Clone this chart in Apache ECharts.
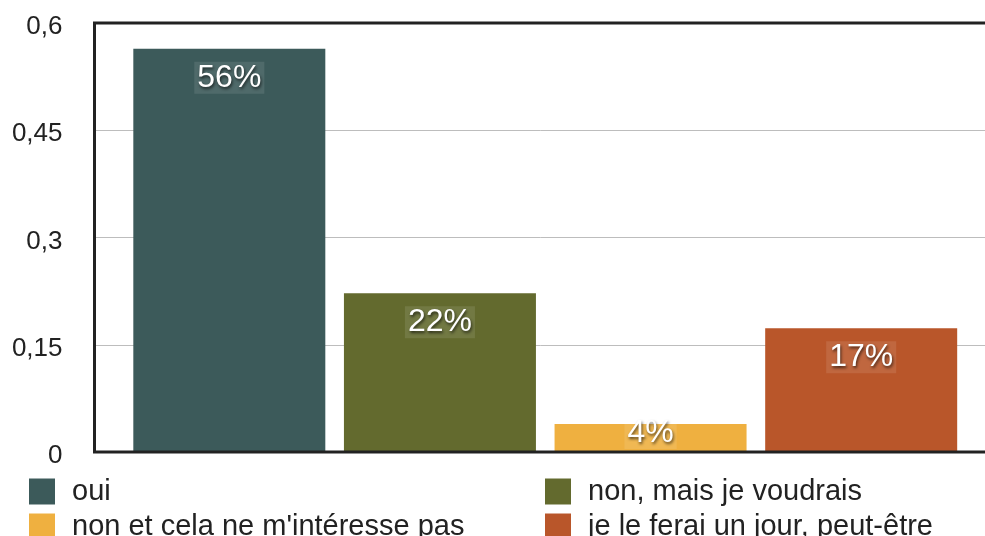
<!DOCTYPE html>
<html>
<head>
<meta charset="utf-8">
<script src="https://cdn.jsdelivr.net/npm/echarts@6/dist/echarts.min.js"></script>
<style>
  html, body { margin: 0; padding: 0; background: #fff; }
  #chart { width: 985px; height: 536px; }
</style>
</head>
<body>
<div id="chart"></div>
<script>
// Survey answers: one bar per answer, share of respondents
var answers = ['oui', 'non, mais je voudrais', 'non et cela ne m\'intéresse pas', 'je le ferai un jour, peut-être'];
var shares = [0.564, 0.222, 0.039, 0.173];
var colors = ['#3c5a5a', '#636a2e', '#efb040', '#b9562a'];
var yTickLabels = ['0', '0,15', '0,3', '0,45', '0,6'];

var FONT = '"Liberation Sans", Arial, Helvetica, sans-serif';

var series = answers.map(function (name, i) {
  var small = shares[i] < 0.08;
  return {
    name: name,
    type: 'bar',
    data: [shares[i]],
    barWidth: 192,
    barGap: '9.7%',
    itemStyle: { color: colors[i] },
    label: {
      show: true,
      position: small ? 'insideBottom' : 'insideTop',
      distance: small ? 3 : 13,
      formatter: function (p) { return Math.round(p.value * 100) + '%'; },
      color: '#fff',
      fontFamily: FONT,
      fontSize: 32,
      lineHeight: 30,
      padding: [1, 3, 1, 3],
      backgroundColor: 'rgba(255,255,255,0.1)',
      textShadowColor: 'rgba(0,0,0,0.65)',
      textShadowBlur: 3,
      textShadowOffsetX: 1,
      textShadowOffsetY: 2
    }
  };
});

var legendText = { color: '#222', fontFamily: FONT, fontSize: 29, lineHeight: 26, padding: [0, 0, 0, 12] };

function legendColumn(left, names) {
  return {
    left: left, top: 477, width: 440, height: 120,
    orient: 'vertical', padding: 0,
    itemWidth: 26, itemHeight: 26, itemGap: 6,
    icon: 'rect', selectedMode: false,
    data: names,
    textStyle: legendText
  };
}

var chart = echarts.init(document.getElementById('chart'), null, { renderer: 'canvas' });
chart.setOption({
  animation: false,
  backgroundColor: '#fff',
  color: colors,
  grid: {
    left: 94.5, top: 23, right: -11, bottom: 84,
    outerBoundsMode: 'none',
    show: true, borderColor: '#222', borderWidth: 3, z: 5,
    containLabel: false
  },
  xAxis: {
    type: 'category',
    data: [''],
    axisLine: { show: false },
    axisTick: { show: false },
    axisLabel: { show: false }
  },
  yAxis: {
    type: 'value',
    min: 0, max: 0.6, interval: 0.15,
    axisLine: { show: false },
    axisTick: { show: false },
    axisLabel: {
      margin: 32,
      color: '#222',
      fontFamily: FONT,
      fontSize: 26,
      verticalAlign: 'top',
      lineHeight: 26,
      padding: [-9, 0, 0, 0],
      formatter: function (v) { return yTickLabels[Math.round(v / 0.15)]; }
    },
    splitLine: { show: true, lineStyle: { color: '#bdbdbd', width: 1 } }
  },
  legend: [
    legendColumn(29, [answers[0], answers[2]]),
    legendColumn(545, [answers[1], answers[3]])
  ],
  series: series
});
</script>
</body>
</html>
